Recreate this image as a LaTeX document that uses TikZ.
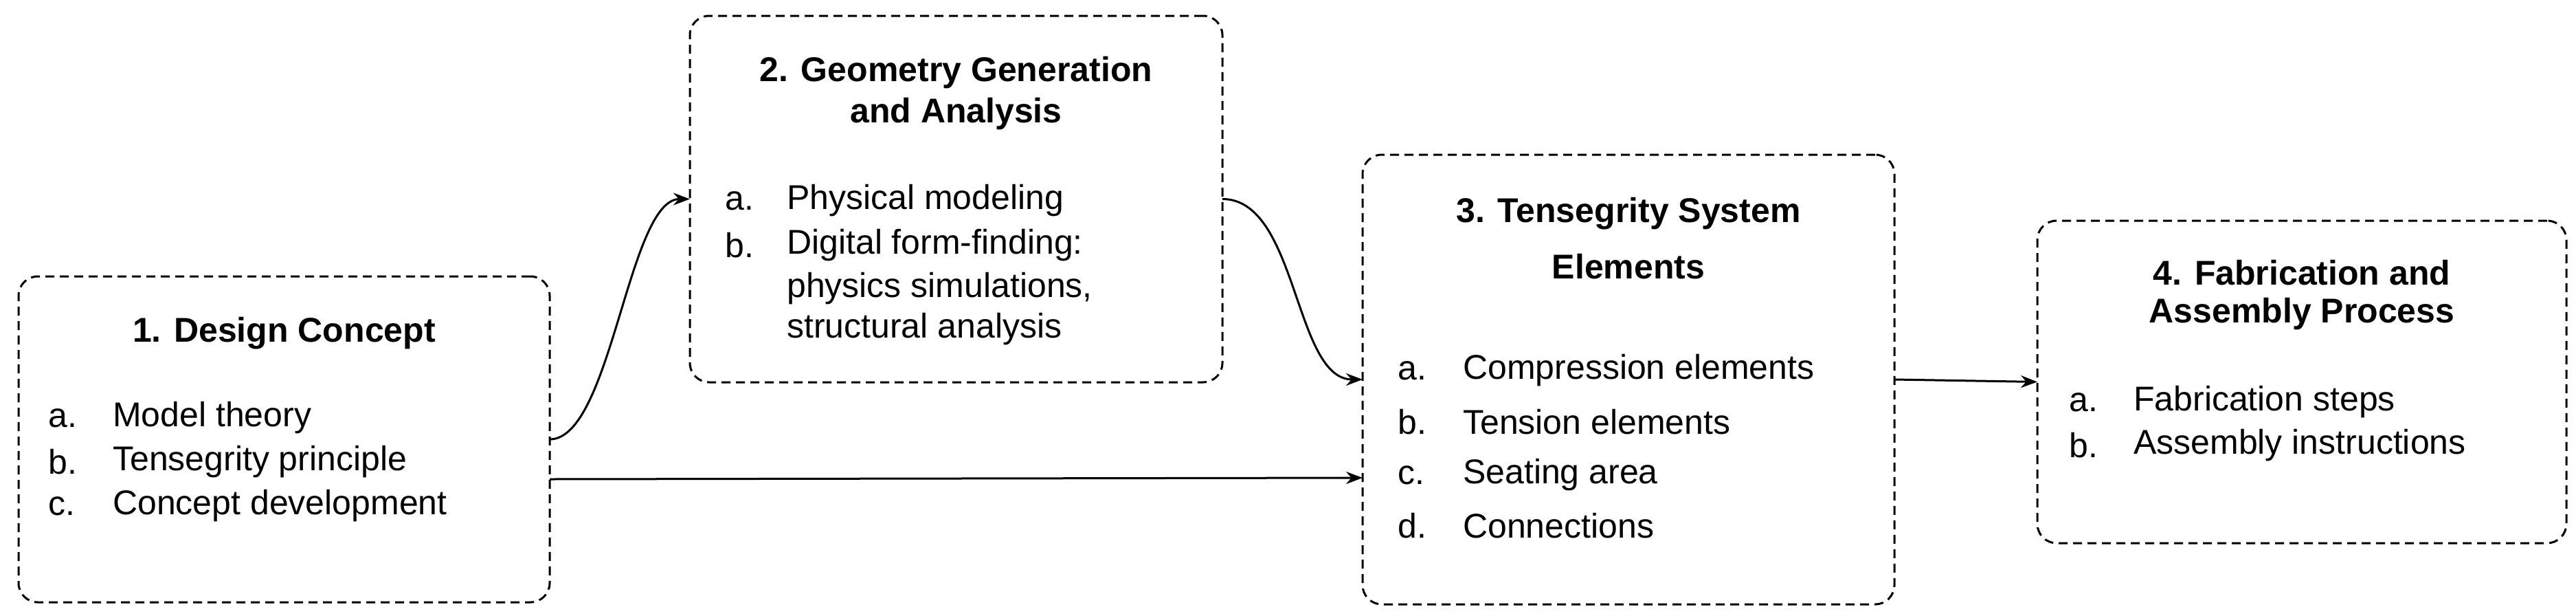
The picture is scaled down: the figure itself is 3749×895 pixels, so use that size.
\documentclass[tikz,border=0pt]{standalone}
\usepackage{fontspec}
\setmainfont{Liberation Sans}
\usetikzlibrary{arrows.meta}
\begin{document}
\begin{tikzpicture}[x=1pt,y=-1pt,
  box/.style={draw,line width=3pt,dash pattern=on 13pt off 8pt,rounded corners=28pt,inner sep=0pt,outer sep=0pt},
  ttl/.style={font=\fontsize{50}{60}\selectfont\bfseries,inner sep=0pt,anchor=center},
  lbl/.style={font=\fontsize{50}{60}\selectfont,inner sep=0pt,anchor=west},
  arr/.style={line width=3pt,-{Stealth[length=24pt,width=18pt]}}]
\useasboundingbox (0,0) rectangle (3749,895);
% boxes
\node[box,minimum width=773pt,minimum height=474pt] (b1) at (413.5,639) {};
\node[box,minimum width=775pt,minimum height=533pt] (b2) at (1391.5,289.5) {};
\node[box,minimum width=774pt,minimum height=654pt] (b3) at (2370,552) {};
\node[box,minimum width=770pt,minimum height=469pt] (b4) at (3350,555.5) {};
% box 1
\node[ttl] (t1) at (413.5,485) {1. Design Concept};
\node[lbl] (l1a) at (70,608) {a.}; \node[lbl] (i1a) at (164,608) {Model theory};
\node[lbl] (l1b) at (70,672) {b.}; \node[lbl] (i1b) at (164,672) {Tensegrity principle};
\node[lbl] (l1c) at (70,736) {c.}; \node[lbl] (i1c) at (164,736) {Concept development};
% box 2
\node[ttl] (t2a) at (1391.5,106) {2. Geometry Generation};
\node[ttl] (t2b) at (1391.5,166) {and Analysis};
\node[lbl] (l2a) at (1055,292) {a.}; \node[lbl] (i2a) at (1145,292) {Physical modeling};
\node[lbl] (l2b) at (1055,357) {b.}; \node[lbl] (i2b) at (1145,357) {Digital form-finding:};
\node[lbl] (i2c) at (1145,420) {physics simulations,};
\node[lbl] (i2d) at (1145,479) {structural analysis};
% box 3
\node[ttl] (t3a) at (2370,311) {3. Tensegrity System};
\node[ttl] (t3b) at (2370,388) {Elements};
\node[lbl] (l3a) at (2034,539) {a.}; \node[lbl] (i3a) at (2129,539) {Compression elements};
\node[lbl] (l3b) at (2034,614) {b.}; \node[lbl] (i3b) at (2129,614) {Tension elements};
\node[lbl] (l3c) at (2034,691) {c.}; \node[lbl] (i3c) at (2129,691) {Seating area};
\node[lbl] (l3d) at (2034,765) {d.}; \node[lbl] (i3d) at (2129,765) {Connections};
% box 4
\node[ttl] (t4a) at (3350,397) {4. Fabrication and};
\node[ttl] (t4b) at (3350,457) {Assembly Process};
\node[lbl] (l4a) at (3011,585) {a.}; \node[lbl] (i4a) at (3105,585) {Fabrication steps};
\node[lbl] (l4b) at (3011,648) {b.}; \node[lbl] (i4b) at (3105,648) {Assembly instructions};
% connectors
\draw[arr] (b1.east) .. controls +(90pt,0) and +(-90pt,0) .. (b2.west);
\draw[arr] ([yshift=-58pt]b1.east) -- ([yshift=-143pt]b3.west);
\draw[arr] (b2.east) .. controls +(110pt,0) and +(-100pt,0) .. (b3.west);
\draw[arr] (b3.east) -- (b4.west);
\end{tikzpicture}
\end{document}
